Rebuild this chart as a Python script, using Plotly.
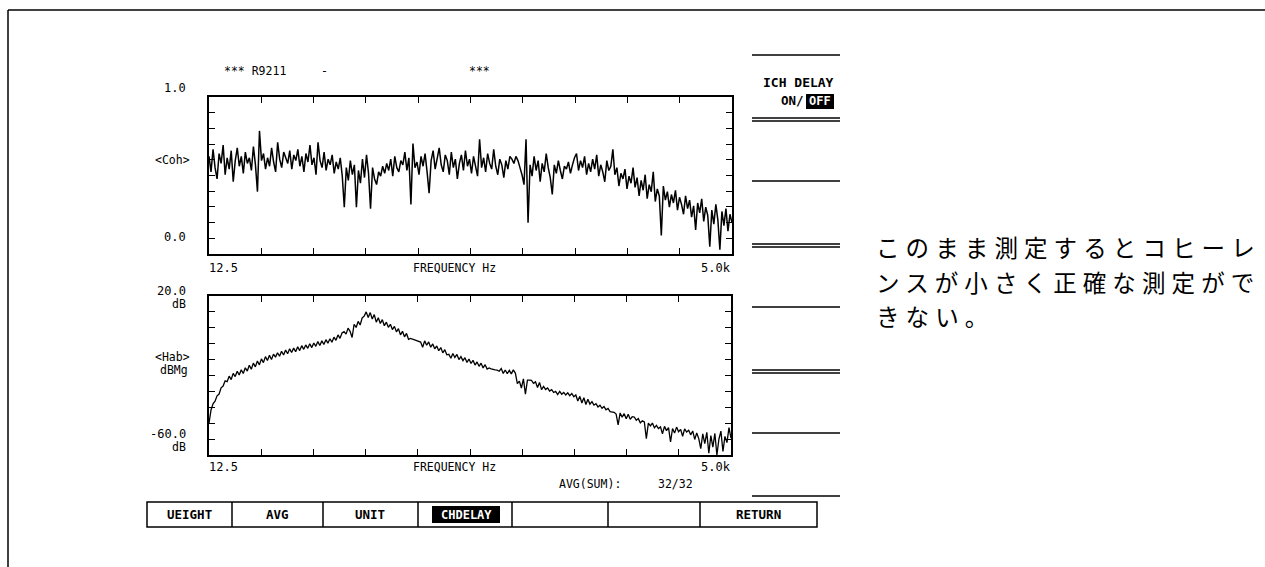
import numpy as np
import plotly.graph_objects as go

# ---------------------------------------------------------------- data
FREQ_START = 12.5      # Hz
FREQ_STOP = 5000.0     # Hz

# coherence <Coh> (0 .. 1)
coherence = [
    0.58, 0.47, 0.63, 0.50, 0.42, 0.60, 0.53, 0.66, 0.45, 0.57,
    0.49, 0.62, 0.40, 0.55, 0.64, 0.51, 0.58, 0.46, 0.61, 0.53,
    0.57, 0.48, 0.65, 0.52, 0.33, 0.76, 0.55, 0.60, 0.49, 0.57,
    0.51, 0.64, 0.54, 0.47, 0.68, 0.56, 0.50, 0.61, 0.57, 0.53,
    0.62, 0.49, 0.59, 0.55, 0.63, 0.51, 0.58, 0.47, 0.60, 0.54,
    0.66, 0.52, 0.57, 0.45, 0.68, 0.55, 0.50, 0.61, 0.48, 0.56,
    0.52, 0.59, 0.46, 0.54, 0.49, 0.57, 0.44, 0.22, 0.50, 0.41,
    0.55, 0.45, 0.52, 0.22, 0.48, 0.39, 0.56, 0.43, 0.59, 0.46,
    0.21, 0.50, 0.42, 0.38, 0.47, 0.44, 0.51, 0.46, 0.53, 0.48,
    0.56, 0.44, 0.58, 0.50, 0.47, 0.55, 0.52, 0.61, 0.48, 0.57,
    0.24, 0.67, 0.50, 0.54, 0.45, 0.58, 0.51, 0.60, 0.47, 0.32,
    0.55, 0.62, 0.49, 0.57, 0.64, 0.52, 0.47, 0.59, 0.55, 0.45,
    0.61, 0.50, 0.56, 0.42, 0.53, 0.59, 0.48, 0.62, 0.51, 0.56,
    0.46, 0.58, 0.52, 0.44, 0.70, 0.50, 0.57, 0.47, 0.60, 0.53,
    0.49, 0.63, 0.51, 0.45, 0.56, 0.52, 0.43, 0.55, 0.49, 0.58,
    0.56, 0.53, 0.58, 0.55, 0.50, 0.45, 0.38, 0.70, 0.11, 0.52,
    0.44, 0.58, 0.48, 0.55, 0.40, 0.53, 0.47, 0.60, 0.50, 0.43,
    0.31, 0.52, 0.46, 0.55, 0.48, 0.42, 0.51, 0.49, 0.54, 0.46,
    0.52, 0.57, 0.60, 0.48, 0.55, 0.50, 0.58, 0.45, 0.53, 0.47,
    0.56, 0.49, 0.59, 0.44, 0.52, 0.47, 0.40, 0.55, 0.48, 0.51,
    0.63, 0.45, 0.50, 0.37, 0.46, 0.42, 0.49, 0.35, 0.44, 0.39,
    0.50, 0.36, 0.43, 0.30, 0.41, 0.34, 0.45, 0.28, 0.38, 0.33,
    0.47, 0.26, 0.35, 0.30, 0.02, 0.37, 0.27, 0.33, 0.22, 0.31,
    0.25, 0.34, 0.20, 0.29, 0.24, 0.17, 0.30, 0.21, 0.27, 0.15,
    0.23, 0.06, 0.25, 0.18, 0.28, 0.12, 0.22, 0.16, -0.06, 0.20,
    0.10, 0.24, 0.13, -0.08, 0.19, 0.09, 0.21, 0.05, 0.17, 0.11,
]

# transfer function magnitude <Hab> (dB)
hab_db = [
    -52.0, -44.5, -41.0, -39.5, -36.5, -35.5, -32.0, -31.0, -28.0, -28.5,
    -25.4, -27.3, -23.8, -25.6, -22.6, -24.7, -21.8, -23.9, -20.6, -22.5,
    -19.2, -21.5, -18.0, -20.1, -16.8, -19.0, -15.6, -17.7, -14.3, -16.5,
    -13.6, -15.9, -12.9, -14.6, -12.1, -14.1, -11.3, -13.4, -10.6, -12.7,
    -9.9, -12.0, -9.5, -11.5, -8.7, -10.9, -8.1, -10.2, -7.7, -9.6,
    -7.0, -9.2, -6.6, -8.5, -5.8, -8.0, -5.4, -7.4, -4.7, -6.7,
    -4.2, -6.2, -3.3, -5.1, -2.0, -4.0, -0.9, -0.2, -1.6, 1.8,
    0.0, -3.5, 4.0, 2.2, 5.6, 3.6, 7.6, 8.6, 11.0, 7.8,
    10.6, 7.0, 9.5, 5.2, 7.7, 4.4, 6.6, 3.2, 5.2, 2.3,
    4.0, 1.0, 2.8, -0.3, 1.5, -2.0, 0.0, -3.1, -1.2, -4.5,
    -4.0, -4.4, -4.8, -5.5, -5.6, -6.1, -9.0, -5.4, -7.9, -6.0,
    -9.0, -7.1, -9.9, -8.3, -11.0, -9.2, -12.2, -10.4, -13.3, -13.0,
    -15.2, -12.5, -14.8, -13.1, -16.0, -14.3, -16.6, -14.9, -17.6, -15.7,
    -18.2, -16.4, -19.1, -17.3, -19.8, -18.0, -20.7, -18.9, -21.4, -20.7,
    -21.2, -21.3, -21.8, -22.0, -22.6, -21.1, -23.8, -21.9, -24.0, -22.1,
    -24.1, -21.8, -23.6, -29.6, -28.2, -32.1, -26.9, -35.5, -27.6, -27.6,
    -27.8, -29.4, -28.6, -31.8, -28.9, -33.0, -31.2, -32.9, -32.0, -33.8,
    -33.0, -34.6, -34.0, -35.8, -34.0, -35.6, -34.6, -36.0, -34.8, -36.4,
    -35.2, -37.0, -36.0, -39.4, -36.8, -40.6, -37.6, -41.4, -38.4, -41.2,
    -39.8, -41.8, -41.0, -42.8, -41.8, -43.6, -42.6, -44.4, -43.6, -45.4,
    -45.7, -45.8, -46.8, -53.0, -46.2, -48.6, -46.6, -49.5, -47.0, -49.8,
    -48.3, -48.5, -50.3, -49.4, -51.8, -50.6, -51.3, -60.7, -52.0, -53.5,
    -51.9, -54.6, -53.2, -55.0, -54.1, -58.0, -53.8, -56.2, -54.5, -62.6,
    -55.0, -57.6, -54.2, -56.8, -55.5, -59.4, -55.2, -57.0, -56.0, -58.6,
    -56.4, -61.2, -57.5, -60.7, -66.4, -58.0, -63.5, -57.2, -69.0, -59.0,
    -65.5, -57.8, -70.0, -61.0, -56.5, -68.0, -59.5, -63.0, -54.5, -60.5,
]

softkeys_bottom = ["UEIGHT", "AVG", "UNIT", "CHDELAY", "", "", "RETURN"]
japanese_note = ["このまま測定するとコヒーレ", "ンスが小さく正確な測定がで", "きない。"]

# frequency lines, log spaced over the analysis span
freq = np.geomspace(FREQ_START, FREQ_STOP, len(coherence))

# ---------------------------------------------------------------- helpers
W, H = 1265, 567
MONO = "DejaVu Sans Mono, Liberation Mono, monospace"


def px(x):
    return x / W


def py(y):
    return 1 - y / H


annotations = []
shapes = []


def label(x, y, text, anchor="left", size=11.5, bold=False, color="black", family=MONO):
    annotations.append(dict(
        x=px(x), y=py(y), xref="paper", yref="paper", text=text,
        xanchor=anchor, yanchor="middle", showarrow=False, align="left",
        font=dict(family=family, size=size, color=color,
                  weight="bold" if bold else "normal"),
    ))


def hline(x0, x1, y, width=1.5):
    shapes.append(dict(type="line", xref="paper", yref="paper",
                       x0=px(x0), x1=px(x1), y0=py(y), y1=py(y),
                       line=dict(color="black", width=width)))


def vline(x, y0, y1, width=1.5):
    shapes.append(dict(type="line", xref="paper", yref="paper",
                       x0=px(x), x1=px(x), y0=py(y0), y1=py(y1),
                       line=dict(color="black", width=width)))


def rect(x0, y0, x1, y1, fill=None, width=1.5):
    shapes.append(dict(type="rect", xref="paper", yref="paper",
                       x0=px(x0), x1=px(x1), y0=py(y1), y1=py(y0),
                       fillcolor=fill if fill else "rgba(0,0,0,0)",
                       line=dict(color="black", width=width)))


# ---------------------------------------------------------------- figure
fig = go.Figure()
fig.add_trace(go.Scatter(x=freq, y=coherence, mode="lines",
                         line=dict(color="black", width=1.5),
                         xaxis="x", yaxis="y", hoverinfo="skip"))
fig.add_trace(go.Scatter(x=freq, y=hab_db, mode="lines",
                         line=dict(color="black", width=1.3),
                         xaxis="x2", yaxis="y2", hoverinfo="skip"))

lg0, lg1 = np.log10(FREQ_START), np.log10(FREQ_STOP)
xticks = [10 ** (lg0 + (lg1 - lg0) * k / 10) for k in range(1, 10)]

axis_common = dict(showline=True, linecolor="black", linewidth=1.5, mirror="ticks",
                   ticks="inside", ticklen=6, tickwidth=1.3, tickcolor="black",
                   showgrid=False, zeroline=False, showticklabels=False,
                   fixedrange=True)

coh_range = [-0.111, 1.0]
hab_range = [-70.0, 20.0]

fig.update_layout(
    width=W, height=H, margin=dict(l=0, r=0, t=0, b=0),
    paper_bgcolor="white", plot_bgcolor="white", showlegend=False,
    xaxis=dict(domain=[px(209), px(732)], type="log", range=[lg0, lg1],
               tickvals=xticks, anchor="y", **axis_common),
    yaxis=dict(domain=[py(254), py(97)], range=coh_range,
               tickvals=[1.0 - 0.111 * k for k in range(1, 10)], anchor="x",
               **axis_common),
    xaxis2=dict(domain=[px(209), px(731)], type="log", range=[lg0, lg1],
                tickvals=xticks, anchor="y2", **axis_common),
    yaxis2=dict(domain=[py(455), py(296)], range=hab_range,
                tickvals=[20 - 9 * k for k in range(1, 10)], anchor="x2",
                **axis_common),
)

# page frame
vline(8, 567, 10, width=1.5)
hline(8, 1265, 10, width=1.5)

# header
label(222, 71, "*** R9211")
label(319, 71, "-")
label(479, 71, "***", anchor="center")

# coherence panel labels
label(188, 88, "1.0", anchor="right", size=12)
label(192, 160, "&lt;Coh&gt;", anchor="right")
label(188, 237, "0.0", anchor="right", size=12)
label(207, 268, "12.5", size=12)
label(411, 268, "FREQUENCY Hz")
label(733, 268, "5.0k", anchor="right", size=12)

# transfer function panel labels
label(188, 291, "20.0", anchor="right", size=12)
label(188, 304, "dB", anchor="right")
label(192, 357, "&lt;Hab&gt;", anchor="right")
label(190, 370, "dBMg", anchor="right")
label(188, 434, "-60.0", anchor="right", size=12)
label(188, 447, "dB", anchor="right")
label(207, 467, "12.5", size=12)
label(411, 467, "FREQUENCY Hz")
label(733, 467, "5.0k", anchor="right", size=12)
label(557, 484, "AVG(SUM):")
label(656, 484, "32/32")

# right soft-key column
hline(752, 840, 55)
label(836, 82, "ICH DELAY", anchor="right", size=13, bold=True)
rect(806, 94, 834, 109, fill="black", width=0)
label(806, 101, "ON/", anchor="right", size=12.5, bold=True)
label(820, 101, "OFF", anchor="center", size=12, bold=True, color="white")
for y in [118, 244, 370]:
    hline(752, 840, y)
    hline(752, 840, y + 3)
for y in [181, 307, 433, 496]:
    hline(752, 840, y)

# bottom soft-key bar
edges = [147, 232, 323, 418, 512, 608, 700, 817]
rect(edges[0], 502, edges[-1], 527)
for x in edges[1:-1]:
    vline(x, 502, 527)
for i, key in enumerate(softkeys_bottom):
    if not key:
        continue
    cx = (edges[i] + edges[i + 1]) / 2
    if key == "CHDELAY":
        rect(432, 506, 500, 523, fill="black", width=0)
        label(466, 514.5, key, anchor="center", size=12, bold=True, color="white")
    else:
        label(cx, 514.5, key, anchor="center", size=12.5, bold=True)

# explanatory note, one annotation per line with widened character pitch
for i, line in enumerate(japanese_note):
    label(874, 247 + 34.5 * i,
          '<span style="letter-spacing:6.1px">' + line + "</span>",
          size=23.5, family="Noto Sans CJK JP")

fig.update_layout(annotations=annotations, shapes=shapes)
fig.write_html("out.html")
